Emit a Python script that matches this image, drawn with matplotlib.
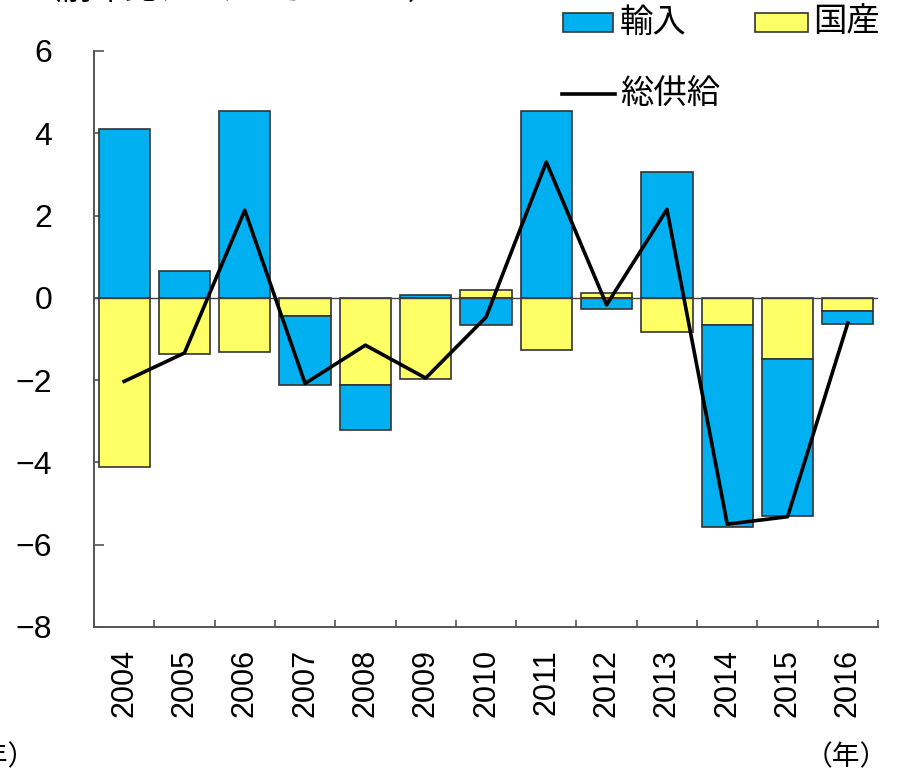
import matplotlib
matplotlib.use("Agg")
import matplotlib.pyplot as plt
from matplotlib.patches import Rectangle
from matplotlib.lines import Line2D
import numpy as np

# Year-on-year contributions (%, percentage points)
years = ["2004", "2005", "2006", "2007", "2008", "2009", "2010",
         "2011", "2012", "2013", "2014", "2015", "2016"]
imports = [4.10, 0.66, 4.55, -1.69, -1.07, 0.08, -0.67,
           4.55, -0.27, 3.06, -4.89, -3.82, -0.31]
domestic = [-4.10, -1.37, -1.32, -0.44, -2.13, -1.98, 0.18,
            -1.26, 0.11, -0.83, -0.67, -1.48, -0.32]
total_supply = [-2.03, -1.34, 2.13, -2.08, -1.15, -1.95, -0.47,
                3.30, -0.17, 2.15, -5.50, -5.32, -0.61]

BLUE = "#00B0F0"
YELLOW = "#FFFF66"
EDGE = "#333333"
AXIS = "#555555"
NUM_FONT = ["Liberation Sans", "DejaVu Sans"]
JP_FONT = ["Noto Sans CJK JP", "DejaVu Sans"]

W, H = 901, 775
fig = plt.figure(figsize=(W / 100, H / 100), dpi=100)


def fx(px):
    return px / W


def fy(py):
    return 1 - py / H


ax = fig.add_axes([fx(94), fy(627), fx(878) - fx(94), fy(51) - fy(627)])

x = np.arange(len(years))
dom = np.array(domestic)
imp = np.array(imports)
# imports are stacked beyond domestic when both have the same sign
imp_bottom = np.where(np.sign(imp) == np.sign(dom), dom, 0.0)

bw = 0.85
ax.bar(x, dom, width=bw, color=YELLOW, edgecolor=EDGE, linewidth=1.2, zorder=2)
ax.bar(x, imp, bottom=imp_bottom, width=bw, color=BLUE, edgecolor=EDGE,
       linewidth=1.2, zorder=2)
ax.axhline(0, color="#404040", linewidth=1.0, zorder=3)
ax.plot(x, total_supply, color="black", linewidth=2.6, zorder=4)

ax.set_xlim(-0.5, len(years) - 0.5)
ax.set_ylim(-8, 6)
ax.set_yticks(np.arange(-8, 7, 2))
ax.set_yticklabels([f"{v:d}".replace("-", "\u2212") for v in range(-8, 7, 2)],
                   fontsize=23, family=NUM_FONT)
ax.tick_params(axis="y", direction="in", length=7, width=1.2, color=AXIS, pad=30)

ax.set_xticks(x)
ax.set_xticklabels(years, rotation=90, fontsize=22, family=NUM_FONT)
ax.tick_params(axis="x", which="major", length=0, pad=16)
ax.set_xticks(np.arange(-0.5, len(years), 1.0), minor=True)
ax.tick_params(axis="x", which="minor", direction="in", length=5, width=1.2,
               color=AXIS)

for side in ("top", "right"):
    ax.spines[side].set_visible(False)
for side in ("left", "bottom"):
    ax.spines[side].set_color(AXIS)
    ax.spines[side].set_linewidth(1.4)

# Legend
fig.add_artist(Rectangle((fx(563), fy(32)), fx(613) - fx(563), fy(13) - fy(32),
                         transform=fig.transFigure, facecolor=BLUE,
                         edgecolor=EDGE, linewidth=1.2))
fig.text(fx(620), fy(22), "輸入", fontsize=24, family=JP_FONT, va="center", ha="left")
fig.add_artist(Rectangle((fx(755), fy(32)), fx(808) - fx(755), fy(13) - fy(32),
                         transform=fig.transFigure, facecolor=YELLOW,
                         edgecolor=EDGE, linewidth=1.2))
fig.text(fx(813), fy(22), "国産", fontsize=24, family=JP_FONT, va="center", ha="left")
fig.add_artist(Line2D([fx(562), fx(615)], [fy(94), fy(94)],
                      transform=fig.transFigure, color="black", linewidth=2.6))
fig.text(fx(620), fy(93), "総供給", fontsize=24, family=JP_FONT, va="center", ha="left")

# Unit and axis captions
fig.text(fx(30), fy(-10), "（前年比、%、%ポイント）", fontsize=23, family=JP_FONT,
         va="center", ha="left")
fig.text(fx(888), fy(757), "（年）", fontsize=20, family=JP_FONT,
         va="center", ha="right")
fig.text(fx(36), fy(757), "（年）", fontsize=20, family=JP_FONT,
         va="center", ha="right")

fig.savefig("out.png", dpi=100)
